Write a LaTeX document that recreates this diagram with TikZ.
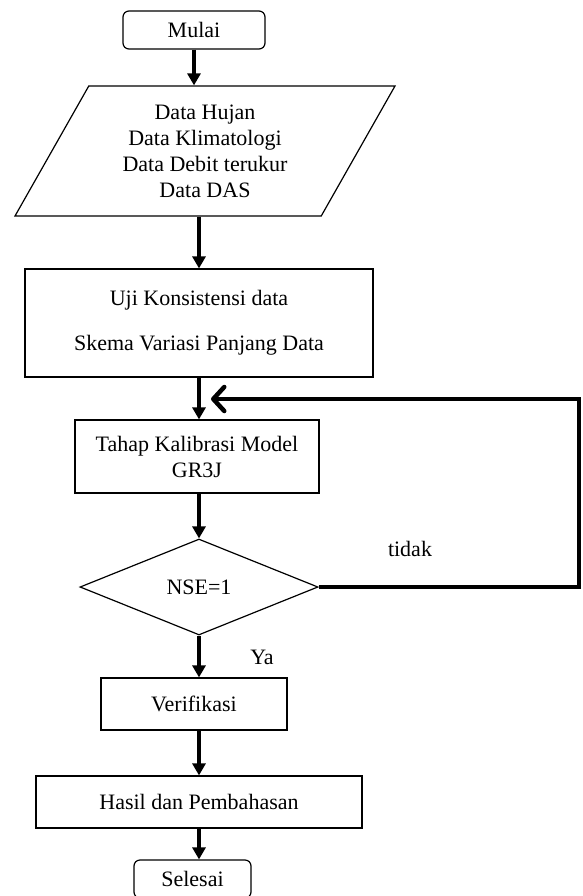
\documentclass[tikz,border=0pt]{standalone}
\usepackage{fontspec}
\setmainfont{Liberation Serif}
\usepackage{xcolor}
\usepackage{tikz}
\usetikzlibrary{shapes.geometric,arrows.meta}

\begin{document}
\begin{tikzpicture}[x=1pt, y=-1pt,
                every node/.style={font=\fontsize{22}{26}\selectfont, inner sep=0pt},
                proses/.style={draw, rectangle, line width=1.2pt, align=center},
                terminal/.style={draw, rectangle, rounded corners=6pt, line width=1.2pt},
                masukan/.style={draw, trapezium, trapezium left angle=60, trapezium right angle=120,
                        trapezium stretches body, inner ysep=17.5pt, line width=1.2pt, align=center},
                keputusan/.style={draw, diamond, aspect=2.48, line width=1.2pt},
                panah/.style={-{Triangle[length=12pt,width=13pt]}, line width=4.5pt},
                balik/.style={-{Straight Barb[length=11pt,width=24pt,round]}, line width=4.5pt}]
                \useasboundingbox (0,0) rectangle (583,896);
                \node[terminal, minimum width=142, minimum height=38] (mulai) at (194,30) {Mulai};
                \node[masukan, minimum width=380, minimum height=130] (data) at (205,151)
                        {Data Hujan\\Data Klimatologi\\Data Debit terukur\\Data DAS};
                \node[proses, minimum width=348, minimum height=108] (uji) at (199,323)
                        {Uji Konsistensi data\\[19pt]Skema Variasi Panjang Data};
                \node[proses, minimum width=244, minimum height=73] (kalibrasi) at (197,456.5)
                        {Tahap Kalibrasi Model\\GR3J};
                \node[keputusan, minimum width=238, minimum height=96] (nse) at (199,587) {NSE=1};
                \node[proses, minimum width=186, minimum height=52] (verifikasi) at (194,704) {Verifikasi};
                \node[proses, minimum width=326, minimum height=52] (hasil) at (199,802) {Hasil dan Pembahasan};
                \node[terminal, minimum width=117, minimum height=38] (selesai) at (192.5,879) {Selesai};
                \node (tidak) at (410,549) {tidak};
                \node (ya) at (262,657) {Ya};
                \coordinate (sudut) at (579,399);
                \coordinate (masuk) at (211,399);
                \draw[panah] (mulai) -- (mulai |- data.north);
                \draw[panah] (uji |- data.south) -- (uji);
                \draw[panah] (uji) -- (uji |- kalibrasi.north);
                \draw[panah] (nse |- kalibrasi.south) -- (nse);
                \draw[panah] (nse) -- (nse |- verifikasi.north);
                \draw[panah] (hasil |- verifikasi.south) -- (hasil);
                \draw[panah] (hasil) -- (hasil |- selesai.north);
                \draw[balik] (nse.east) -| (sudut) -- (masuk);
            \end{tikzpicture}
\end{document}
